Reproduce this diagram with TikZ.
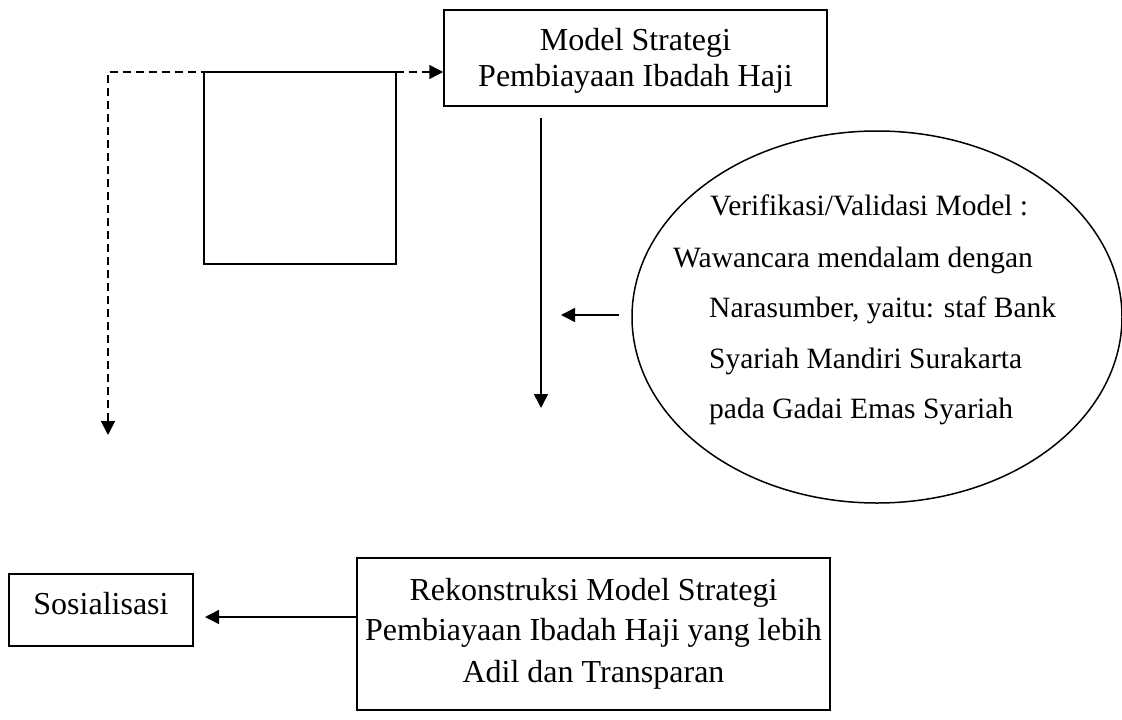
\documentclass[tikz,border=0pt]{standalone}
\usepackage{fontspec}
\setmainfont{Liberation Serif}
\usetikzlibrary{arrows.meta,shapes.geometric}
\tikzset{
  box/.style={draw,line width=1.5pt,rectangle,inner sep=0pt,align=center},
  conn/.style={line width=1.5pt,-{Triangle[length=14pt,width=14pt]}},
  dconn/.style={line width=1.5pt,dash pattern=on 8pt off 5pt,{Triangle[length=14pt,width=14pt]}-{Triangle[length=14pt,width=14pt]}},
  txt/.style={inner sep=0pt,anchor=base west,font=\fontsize{29.5}{36}\selectfont},
  btxt/.style={inner sep=0pt,anchor=base,font=\fontsize{32}{36}\selectfont},
}
\begin{document}
\begin{tikzpicture}[x=1pt,y=-1pt]
\useasboundingbox (0,0) rectangle (1122,720);
% top box
\node[box,minimum width=383pt,minimum height=96pt] (top) at (635.5,58) {};
\node[btxt] (t1) at (635.5,50) {Model Strategi};
\node[btxt] (t2) at (635.5,86) {Pembiayaan Ibadah Haji};
% dashed connector
\coordinate (dend) at (108,435);
\coordinate (dcorner) at (108,72);
\draw[dconn] (dend) -- (dcorner) -- (dcorner -| top.west);
% empty box
\node[box,fill=white,minimum width=192pt,minimum height=192pt] (empty) at (300,168) {};
% ellipse
\node[draw,ellipse,line width=1.5pt,minimum width=490pt,minimum height=372pt,inner sep=0pt] (ell) at (877,317) {};
\node[txt] (e1) at (710,215) {Verifikasi/Validasi Model :};
\node[txt] (e2) at (673,267) {Wawancara mendalam dengan};
\node[txt] (e3) at (709,317) {Narasumber, yaitu: staf Bank};
\node[txt] (e4) at (709,368) {Syariah Mandiri Surakarta};
\node[txt] (e5) at (709,418) {pada Gadai Emas Syariah};
% vertical arrow
\coordinate (va) at (541,118);
\coordinate (vb) at (541,408);
\draw[conn] (va) -- (vb);
% ellipse arrow
\coordinate (ea) at (619,315);
\coordinate (eb) at (561,315);
\draw[conn] (ea) -- (eb);
% bottom boxes
\node[box,minimum width=184pt,minimum height=72pt] (sos) at (101,610) {};
\node[btxt] (s1) at (101,614) {Sosialisasi};
\node[box,minimum width=473pt,minimum height=152pt] (rek) at (593.5,634) {};
\node[btxt] (r1) at (593.5,600) {Rekonstruksi Model Strategi};
\node[btxt] (r2) at (593.5,640) {Pembiayaan Ibadah Haji yang lebih};
\node[btxt] (r3) at (593.5,682) {Adil dan Transparan};
\coordinate (sa) at (205,617);
\draw[conn] (rek.west |- sa) -- (sa);
\end{tikzpicture}
\end{document}
